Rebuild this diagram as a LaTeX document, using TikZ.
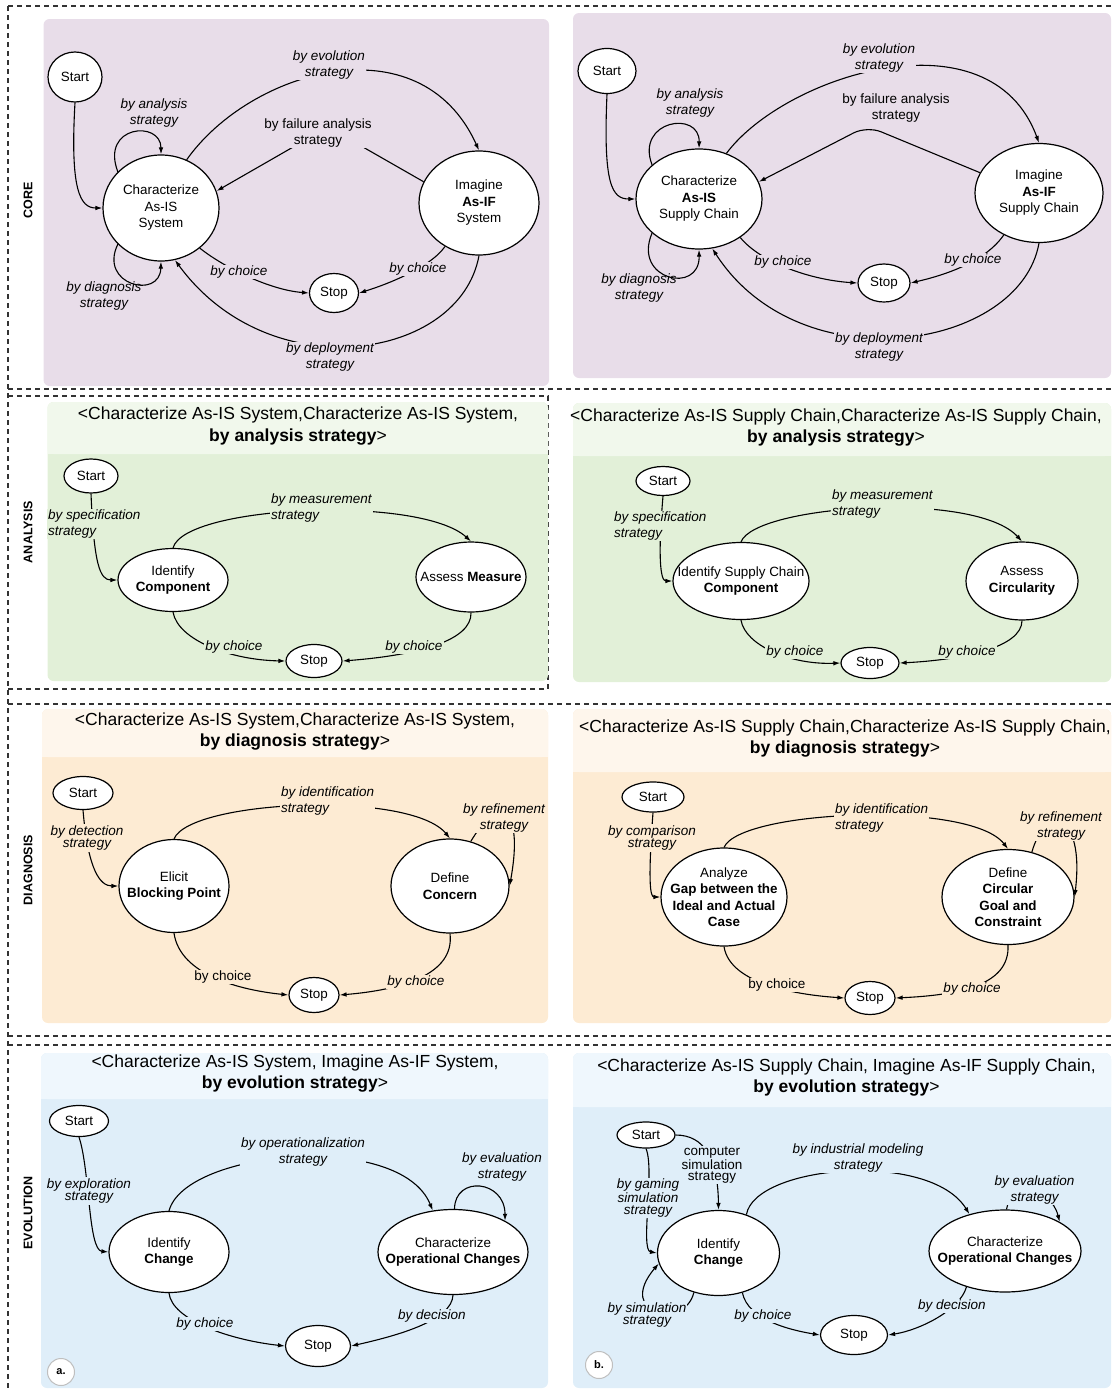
\documentclass[tikz,border=0pt]{standalone}
\usepackage{fontspec}
\setmainfont{Liberation Sans}
\usetikzlibrary{arrows.meta,shapes.geometric}
\definecolor{corebg}{HTML}{E8DDE9}
\definecolor{anabg}{HTML}{E2F0D8}
\definecolor{anahd}{HTML}{F1F8EC}
\definecolor{diabg}{HTML}{FDEBD3}
\definecolor{diahd}{HTML}{FEF6EC}
\definecolor{evobg}{HTML}{DFEEF9}
\definecolor{evohd}{HTML}{EFF7FD}
\definecolor{framegray}{HTML}{333333}
\colorlet{panel}{white}
\newcommand{\nowd}[1]{\makebox[0pt]{#1}}
\tikzset{
  >={Latex[length=7pt,width=4.6pt]},
  % tillstaand
  st/.style={ellipse,draw=black,fill=white,line width=1.2pt,inner sep=0pt,
             align=center,font=\fontsize{13.4}{16.5}\selectfont},
  sz/.style 2 args={minimum width=#1,minimum height=#2},
  tr/.style={->,draw=black,line width=1.1pt},
  lbl/.style={font=\fontsize{13.5}{16}\selectfont\itshape,align=center,
              inner sep=1pt,fill=panel},
  lblup/.style={lbl,font=\fontsize{13.5}{16}\selectfont},
  lbltight/.style={lbl,font=\fontsize{13.5}{11.5}\selectfont\itshape},
  lbltightup/.style={lbl,font=\fontsize{13.5}{11.5}\selectfont},
  % ramar
  ttl/.style={font=\fontsize{17.5}{21.5}\selectfont,align=center,inner sep=0pt},
  side/.style={font=\fontsize{12.5}{15}\selectfont\bfseries,rotate=90},
  frm/.style={draw=framegray,line width=1.1pt,dash pattern=on 5pt off 4pt},
  badge/.style={circle,draw=black!25,fill=white,line width=1pt,minimum size=27,
                inner sep=0pt,font=\fontsize{11}{13}\selectfont\bfseries},
}
\begin{document}
\begin{tikzpicture}[x=1pt,y=-1pt]
\useasboundingbox (0,0) rectangle (1113,1392);
% ramar
\draw[frm] (8,6) -- (1113,6);
\draw[frm] (8,6) -- (8,1392);
\draw[frm] (8,389) -- (1113,389);
\draw[frm] (8,396) -- (548,396) -- (548,689) -- (8,689);
\draw[frm] (8,704) -- (1113,704);
\draw[frm] (8,1036) -- (1113,1036);
\draw[frm] (8,1045) -- (1113,1045);
\node[side] (lcore) at (28,200) {CORE};
\node[side] (lana) at (28,532) {ANALYSIS};
\node[side] (ldia) at (28,870) {DIAGNOSIS};
\node[side] (levo) at (28,1213) {EVOLUTION};

% core, a
\begin{scope}
\colorlet{panel}{corebg}
\fill[corebg,rounded corners=6] (43.5,19) rectangle (549,386);
\node[st,sz={54}{50}] (c1s) at (75,77) {Start};
\node[st,sz={116}{106}] (c1c) at (161,208) {Characterize\\As-IS\\System};
\node[st,sz={120}{104}] (c1i) at (479,203) {Imagine\\\textbf{As-IF}\\System};
\node[st,sz={49}{39}] (c1t) at (334,293) {Stop};
\draw[tr] (c1s.south) .. controls (70,190) and (80,208) .. (c1c.west);
\draw[tr] (c1c.140) .. controls (100,125) and (161,120) .. (c1c.north);
\draw[tr] (c1c.220) .. controls (98,285) and (160,300) .. (c1c.south);
\draw[tr] (c1c.62) .. controls (250,70) and (420,20) .. (c1i.north);
\draw[tr,rounded corners=20] (c1i.159) -- (328,127) -- (c1c.17);
\draw[tr] (c1c.314) .. controls (225,268) and (270,290) .. (c1t.west);
\draw[tr] (c1i.232) .. controls (430,268) and (385,285) .. (c1t.east);
\draw[tr] (c1i.south) .. controls (460,360) and (270,390) .. (c1c.285);
\node[lbl,fill=none] (c1ana) at (154,113) {by analysis\\strategy};
\node[lbl,fill=none] (c1dia) at (104,296) {by diagnosis\\strategy};
\node[lbl] (c1evo) at (329,65) {by evolution\\strategy};
\node[lblup] (c1fail) at (318,133) {by failure analysis\\strategy};
\node[lbl] (c1ch1) at (239,272) {by choice};
\node[lbl] (c1ch2) at (418,269) {by choice};
\node[lbl] (c1dep) at (330,357) {by deployment\\strategy};
\end{scope}

% core, b
\begin{scope}
\colorlet{panel}{corebg}
\fill[corebg,rounded corners=6] (573,13) rectangle (1111,378);
\node[st,sz={58}{45}] (c2s) at (607,71) {Start};
\node[st,sz={126}{100}] (c2c) at (699,199) {Characterize\\\textbf{As-IS}\\Supply Chain};
\node[st,sz={128}{99}] (c2i) at (1039,193) {Imagine\\\textbf{As-IF}\\Supply Chain};
\node[st,sz={52}{38}] (c2t) at (884,283) {Stop};
\draw[tr] (c2s.south) .. controls (603,185) and (612,199) .. (c2c.west);
\draw[tr] (c2c.144) .. controls (635,120) and (700,110) .. (c2c.north);
\draw[tr] (c2c.216) .. controls (632,280) and (700,295) .. (c2c.south);
\draw[tr] (c2c.59) .. controls (785,75) and (990,10) .. (c2i.north);
\draw[tr,rounded corners=15] (c2i.161) -- (867,126) -- (c2c.16);
\draw[tr] (c2c.317) .. controls (760,262) and (810,280) .. (c2t.west);
\draw[tr] (c2i.230) .. controls (985,262) and (945,275) .. (c2t.east);
\draw[tr] (c2i.south) .. controls (1020,350) and (800,385) .. (c2c.285);
\node[lbl,fill=none] (c2ana) at (690,103) {by analysis\\strategy};
\node[lbl,fill=none] (c2dia) at (639,288) {by diagnosis\\strategy};
\node[lbl] (c2evo) at (879,58) {by evolution\\strategy};
\node[lblup,fill=none] (c2fail) at (896,108) {by failure analysis\\strategy};
\node[lbl] (c2ch1) at (783,262) {by choice};
\node[lbl] (c2ch2) at (973,260) {by choice};
\node[lbl] (c2dep) at (879,347) {by deployment\\strategy};
\end{scope}

% analysis, a
\begin{scope}
\colorlet{panel}{anabg}
\fill[anabg,rounded corners=6] (47.5,402) rectangle (548,681);
\fill[anahd,rounded corners=6] (47.5,402) rectangle (548,454);
\fill[anahd] (47.5,446) rectangle (548,454);
\node[ttl] (a1ttl) at (298,426) {<Characterize As-IS System,Characterize As-IS System,\\\textbf{by analysis strategy}>};
\node[st,sz={54}{34}] (a1s) at (91,476) {Start};
\node[st,sz={110}{63}] (a1c) at (173,580) {Identify\\\textbf{Component}};
\node[st,sz={110}{70}] (a1m) at (471,577) {\nowd{Assess \textbf{Measure}}};
\node[st,sz={56}{33}] (a1t) at (314,661) {Stop};
\draw[tr] (a1s.south) .. controls (94,565) and (100,580) .. (a1c.west);
\draw[tr] (a1c.north) .. controls (185,505) and (420,495) .. (a1m.north);
\draw[tr] (a1c.south) .. controls (178,640) and (230,660) .. (a1t.west);
\draw[tr] (a1m.south) .. controls (472,640) and (420,655) .. (a1t.east);
\node[lbl,align=left,anchor=west] (a1spec) at (47,524) {by specification\\strategy};
\node[lbl,align=left,anchor=west] (a1meas) at (270,508) {by measurement\\strategy};
\node[lbl] (a1ch1) at (234,647) {by choice};
\node[lbl] (a1ch2) at (414,647) {by choice};
\end{scope}

% analysis, b
\begin{scope}
\colorlet{panel}{anabg}
\fill[anabg,rounded corners=6] (573,403) rectangle (1111,682);
\fill[anahd,rounded corners=6] (573,403) rectangle (1111,456);
\fill[anahd] (573,448) rectangle (1111,456);
\node[ttl] (a2ttl) at (836,427.5) {<Characterize As-IS Supply Chain,Characterize As-IS Supply Chain,\\\textbf{by analysis strategy}>};
\node[st,sz={54}{29}] (a2s) at (663,481) {Start};
\node[st,sz={136}{77}] (a2c) at (741,581) {\nowd{Identify Supply Chain}\\\textbf{Component}};
\node[st,sz={112}{78}] (a2a) at (1022,581) {Assess\\\textbf{Circularity}};
\node[st,sz={58}{31}] (a2t) at (870,663) {Stop};
\draw[tr] (a2s.south) .. controls (658,555) and (660,581) .. (a2c.west);
\draw[tr] (a2c.north) .. controls (755,505) and (975,490) .. (a2a.north);
\draw[tr] (a2c.south) .. controls (745,645) and (790,665) .. (a2t.west);
\draw[tr] (a2a.south) .. controls (1022,648) and (960,660) .. (a2t.east);
\node[lbl,align=left,anchor=west] (a2spec) at (613,526) {by specification\\strategy};
\node[lbl,align=left,anchor=west] (a2meas) at (831,504) {by measurement\\strategy};
\node[lbl] (a2ch1) at (795,652) {by choice};
\node[lbl] (a2ch2) at (967,652) {by choice};
\end{scope}

% diagnosis, a
\begin{scope}
\colorlet{panel}{diabg}
\fill[diabg,rounded corners=6] (42,709) rectangle (548,1023);
\fill[diahd,rounded corners=6] (42,709) rectangle (548,757);
\fill[diahd] (42,749) rectangle (548,757);
\node[ttl] (d1ttl) at (295,731.5) {<Characterize As-IS System,Characterize As-IS System,\\\textbf{by diagnosis strategy}>};
\node[st,sz={60}{33}] (d1s) at (83,793) {Start};
\node[st,sz={110}{93}] (d1e) at (174,886) {Elicit\\\nowd{\textbf{Blocking Point}}};
\node[st,sz={118}{94}] (d1d) at (450,886) {Define\\\textbf{Concern}};
\node[st,sz={50}{35}] (d1t) at (314,995) {Stop};
\draw[tr] (d1s.south) .. controls (88,870) and (100,886) .. (d1e.west);
\draw[tr] (d1e.north) .. controls (190,800) and (410,790) .. (d1d.north);
\draw[tr] (d1d.65) .. controls (495,800) and (525,800) .. (d1d.east);
\draw[tr] (d1e.south) .. controls (180,975) and (240,990) .. (d1t.west);
\draw[tr] (d1d.south) .. controls (455,975) and (400,990) .. (d1t.east);
\node[lbltight] (d1det) at (87,838) {by detection\\strategy};
\node[lbl,align=left,anchor=west] (d1id) at (280,800.5) {by identification\\strategy};
\node[lbl] (d1ref) at (504,818) {by refinement\\strategy};
\node[lblup] (d1ch1) at (223,977) {by choice};
\node[lbl] (d1ch2) at (416,982) {by choice};
\end{scope}

% diagnosis, b
\begin{scope}
\colorlet{panel}{diabg}
\fill[diabg,rounded corners=6] (573,709) rectangle (1111,1023);
\fill[diahd,rounded corners=6] (573,709) rectangle (1111,772);
\fill[diahd] (573,764) rectangle (1111,772);
\node[ttl] (d2ttl) at (845,738.5) {<Characterize As-IS Supply Chain,Characterize As-IS Supply Chain,\\\textbf{by diagnosis strategy}>};
\node[st,sz={62}{30}] (d2s) at (653,797) {Start};
\node[st,sz={126}{98}] (d2a) at (724,897) {Analyze\\\nowd{\textbf{Gap between the}}\\\nowd{\textbf{Ideal and Actual}}\\\textbf{Case}};
\node[st,sz={132}{95}] (d2d) at (1008,897) {Define\\\textbf{Circular}\\\textbf{Goal and}\\\textbf{Constraint}};
\node[st,sz={50}{33}] (d2t) at (870,998) {Stop};
\draw[tr] (d2s.south) .. controls (648,880) and (650,897) .. (d2a.west);
\draw[tr] (d2a.north) .. controls (740,810) and (970,800) .. (d2d.north);
\draw[tr] (d2d.62) .. controls (1045,805) and (1085,810) .. (d2d.east);
\draw[tr] (d2a.south) .. controls (730,985) and (800,995) .. (d2t.west);
\draw[tr] (d2d.south) .. controls (1010,985) and (960,995) .. (d2t.east);
\node[lbltight] (d2cmp) at (652,838) {by comparison\\strategy};
\node[lbl,align=left,anchor=west] (d2id) at (834,817.5) {by identification\\strategy};
\node[lbl] (d2ref) at (1061,826) {by refinement\\strategy};
\node[lblup] (d2ch1) at (777,985) {by choice};
\node[lbl] (d2ch2) at (972,989) {by choice};
\end{scope}

% evolution, a
\begin{scope}
\colorlet{panel}{evobg}
\fill[evobg,rounded corners=6] (41,1053) rectangle (548,1388);
\fill[evohd,rounded corners=6] (41,1053) rectangle (548,1099);
\fill[evohd] (41,1091) rectangle (548,1099);
\node[ttl] (e1ttl) at (295,1073.5) {<Characterize As-IS System, Imagine As-IF System,\\\textbf{by evolution strategy}>};
\node[st,sz={59}{31}] (e1s) at (79,1121) {Start};
\node[st,sz={120}{81}] (e1i) at (169,1252) {Identify\\\textbf{Change}};
\node[st,sz={150}{85}] (e1c) at (453,1252) {Characterize\\\nowd{\textbf{Operational Changes}}};
\node[st,sz={65}{41}] (e1t) at (318,1346) {Stop};
\node[badge] (e1b) at (61,1372) {a.};
\draw[tr] (e1s.south) .. controls (90,1170) and (88,1250) .. (e1i.west);
\draw[tr] (e1i.north) .. controls (185,1150) and (400,1130) .. (e1c.116);
\draw[tr] (e1c.88) .. controls (455,1175) and (505,1180) .. (e1c.31);
\draw[tr] (e1i.south) .. controls (172,1320) and (230,1340) .. (e1t.west);
\draw[tr] (e1c.south) .. controls (452,1320) and (400,1335) .. (e1t.east);
\node[lbltight] (e1exp) at (89,1191) {by exploration\\strategy};
\node[lbl] (e1op) at (303,1152) {by operationalization\\strategy};
\node[lbl] (e1eval) at (502,1167) {by evaluation\\strategy};
\node[lbl] (e1ch) at (205,1324) {by choice};
\node[lbl] (e1dec) at (432,1316) {by decision};
\end{scope}

% evolution, b
\begin{scope}
\colorlet{panel}{evobg}
\fill[evobg,rounded corners=6] (573,1053) rectangle (1111,1388);
\fill[evohd,rounded corners=6] (573,1053) rectangle (1111,1107);
\fill[evohd] (573,1099) rectangle (1111,1107);
\node[ttl] (e2ttl) at (846.5,1077.5) {<Characterize As-IS Supply Chain, Imagine As-IF Supply Chain,\\\textbf{by evolution strategy}>};
\node[st,sz={58}{26}] (e2s) at (646,1135) {Start};
\node[st,sz={122}{85}] (e2i) at (718.5,1253) {Identify\\\textbf{Change}};
\node[st,sz={152}{82}] (e2c) at (1005,1251) {Characterize\\\nowd{\textbf{Operational Changes}}};
\node[st,sz={67}{39}] (e2t) at (854,1335) {Stop};
\node[badge] (e2b) at (599,1365) {b.};
\draw[tr] (e2s.south) .. controls (655,1170) and (640,1250) .. (e2i.west);
\draw[tr] (e2s.east) .. controls (705,1135) and (718,1160) .. (e2i.north);
\draw[tr] (e2i.238) .. controls (685,1330) and (615,1315) .. (e2i.190);
\draw[tr] (e2i.54) .. controls (755,1165) and (930,1150) .. (e2c.134);
\draw[tr] (e2c.88) .. controls (1010,1185) and (1050,1185) .. (e2c.28);
\draw[tr] (e2i.301) .. controls (748,1320) and (790,1330) .. (e2t.west);
\draw[tr] (e2c.223) .. controls (960,1310) and (920,1330) .. (e2t.east);
\node[lbltight] (e2game) at (648,1198) {by gaming\\simulation\\strategy};
\node[lbltightup] (e2comp) at (712,1165) {computer\\simulation\\strategy};
\node[lbltight] (e2sim) at (647,1315) {by simulation\\strategy};
\node[lbl] (e2ind) at (858,1158) {by industrial modeling\\strategy};
\node[lbl] (e2eval) at (1034.5,1190) {by evaluation\\strategy};
\node[lbl] (e2ch) at (763,1316) {by choice};
\node[lbl] (e2dec) at (952,1306) {by decision};
\end{scope}
\end{tikzpicture}
\end{document}
